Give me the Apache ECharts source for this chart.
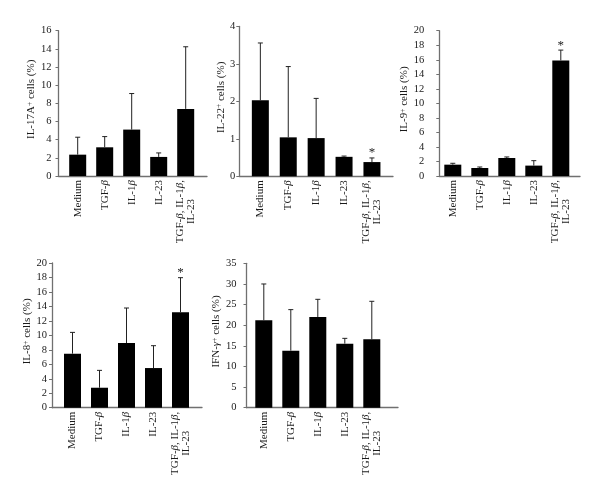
<!DOCTYPE html>
<html>
<head>
<meta charset="utf-8">
<script src="https://cdn.jsdelivr.net/npm/echarts@6/dist/echarts.min.js"></script>
<style>
  html, body { margin: 0; background: #fff; }
  #chart { width: 600px; height: 495px; }
</style>
</head>
<body>
<div id="chart"></div>
<script>
// categories shared by all five panels
const categories = ['Medium', 'TGF-β', 'IL-1β', 'IL-23', 'TGF-β, IL-1β,\nIL-23']

// mean values and SD (error bar height) per panel
const il17Mean = [2.35, 3.16, 5.11, 2.10, 7.39]
const il17Sd = [1.92, 1.18, 3.97, 0.44, 6.84]
const il17Sig = [0, 0, 0, 0, 0]

const il22Mean = [2.03, 1.04, 1.02, 0.52, 0.38]
const il22Sd = [1.53, 1.89, 1.06, 0.02, 0.11]
const il22Sig = [0, 0, 0, 0, 1]

const il9Mean = [1.56, 1.10, 2.48, 1.43, 15.91]
const il9Sd = [0.19, 0.14, 0.14, 0.68, 1.42]
const il9Sig = [0, 0, 0, 0, 1]

const il8Mean = [7.47, 2.76, 8.94, 5.48, 13.18]
const il8Sd = [2.94, 2.40, 4.84, 3.09, 4.79]
const il8Sig = [0, 0, 0, 0, 1]

const ifnMean = [21.18, 13.82, 21.99, 15.52, 16.57]
const ifnSd = [8.81, 9.95, 4.28, 1.29, 9.22]
const ifnSig = [0, 0, 0, 0, 0]

// y axis ranges
const yMax = [16, 4, 20, 20, 35]
const yStep = [2, 1, 2, 2, 5]

const yNames = [
  'IL-17A{sup|+} cells (%)',
  'IL-22{sup|+} cells (%)',
  'IL-9{sup|+} cells (%)',
  'IL-8{sup|+} cells (%)',
  'IFN-{i|γ}{sup|+} cells (%)',
]

// layout of each panel (pixels)
const layout = [
  { left: 58.5, top: 30.7, width: 148.5, height: 145.3, barLeft: 64.2, barWidth: 135, labelMargin: 7, nameGap: 19 },
  { left: 239.3, top: 26.5, width: 153.7, height: 149.8, barLeft: 246.4, barWidth: 139.5, labelMargin: 4, nameGap: 12 },
  { left: 439.3, top: 30.7, width: 140.7, height: 145.3, barLeft: 439.3, barWidth: 135, labelMargin: 15, nameGap: 26 },
  { left: 52, top: 263, width: 150, height: 144.7, barLeft: 59, barWidth: 135, labelMargin: 5, nameGap: 17.5 },
  { left: 246.5, top: 263.3, width: 151.5, height: 144.4, barLeft: 250.3, barWidth: 135, labelMargin: 10, nameGap: 19.5 },
]

const means = [il17Mean, il22Mean, il9Mean, il8Mean, ifnMean]
const sds = [il17Sd, il22Sd, il9Sd, il8Sd, ifnSd]
const sigs = [il17Sig, il22Sig, il9Sig, il8Sig, ifnSig]

const FONT = 'Liberation Serif'
const TEXT = '#1a1a1a'
const AXIS = '#707070'

// category label with italic greek letters, each line centered
function richLabel(s) {
  return s.split('\n').map((line) =>
    line.split(/(β)/).filter((p) => p).map((p) =>
      p === 'β' ? '{b|β}' : '{r|' + p + '}'
    ).join('')
  ).join('\n')
}

let grid = []
let xAxis = []
let yAxis = []
let series = []

layout.forEach((l, k) => {
  // outer grid: the axis lines, y ticks and y labels
  grid.push({ left: l.left, top: l.top, width: l.width, height: l.height, containLabel: false, outerBoundsMode: 'none' })
  // inner grid: the bars and category labels
  grid.push({ left: l.barLeft, top: l.top, width: l.barWidth, height: l.height, containLabel: false, outerBoundsMode: 'none' })

  xAxis.push({
    gridIndex: 2 * k,
    type: 'value',
    min: 0,
    max: 1,
    axisLine: { show: true, lineStyle: { color: AXIS, width: 1.3 } },
    axisTick: { show: false },
    axisLabel: { show: false },
    splitLine: { show: false },
  })
  xAxis.push({
    gridIndex: 2 * k + 1,
    type: 'category',
    data: categories,
    boundaryGap: true,
    axisLine: { show: false },
    axisTick: { show: false },
    axisLabel: {
      interval: 0,
      rotate: 90,
      margin: 4,
      color: TEXT,
      fontFamily: FONT,
      fontSize: 11,
      formatter: richLabel,
      rich: {
        r: { align: 'center', fontFamily: FONT, fontSize: 11, lineHeight: 11, color: TEXT },
        b: { align: 'center', fontFamily: FONT, fontSize: 11, lineHeight: 11, color: TEXT, fontStyle: 'italic' },
      },
    },
  })

  yAxis.push({
    gridIndex: 2 * k,
    type: 'value',
    min: 0,
    max: yMax[k],
    interval: yStep[k],
    name: yNames[k],
    nameLocation: 'middle',
    nameGap: l.nameGap,
    nameTextStyle: {
      color: TEXT,
      fontFamily: FONT,
      fontSize: 11,
      padding: [0, 0, 0, 8],
      rich: {
        sup: { fontFamily: FONT, fontSize: 7.5, verticalAlign: 'top', color: TEXT },
        i: { fontFamily: FONT, fontSize: 11, fontStyle: 'italic', color: TEXT },
      },
    },
    axisLine: { show: true, lineStyle: { color: AXIS, width: 1.3 } },
    axisTick: { show: true, length: 3, lineStyle: { color: AXIS } },
    axisLabel: { margin: l.labelMargin, color: TEXT, fontFamily: FONT, fontSize: 10.5 },
    splitLine: { show: false },
  })
  yAxis.push({
    gridIndex: 2 * k + 1,
    type: 'value',
    min: 0,
    max: yMax[k],
    show: false,
    splitLine: { show: false },
  })

  series.push({
    type: 'bar',
    xAxisIndex: 2 * k + 1,
    yAxisIndex: 2 * k + 1,
    data: means[k],
    barWidth: 17,
    itemStyle: { color: '#000' },
    silent: true,
  })
  series.push({
    type: 'custom',
    xAxisIndex: 2 * k + 1,
    yAxisIndex: 2 * k + 1,
    z: 5,
    silent: true,
    data: means[k].map((m, i) => [i, m, sds[k][i], sigs[k][i]]),
    renderItem(params, api) {
      let base = api.coord([api.value(0), api.value(1)])
      let top = api.coord([api.value(0), api.value(1) + api.value(2)])
      let style = { stroke: '#222', lineWidth: 1 }
      let children = [
        { type: 'line', shape: { x1: base[0], y1: base[1], x2: top[0], y2: top[1] }, style },
        { type: 'line', shape: { x1: top[0] - 2.5, y1: top[1], x2: top[0] + 2.5, y2: top[1] }, style },
      ]
      if (api.value(3)) {
        children.push({
          type: 'text',
          style: { text: '*', x: top[0], y: top[1] - 5, align: 'center', verticalAlign: 'middle', font: '13px "Liberation Serif"', fill: TEXT },
        })
      }
      return { type: 'group', children }
    },
  })
})

let mychart = echarts.init(document.getElementById('chart'))
mychart.setOption({
  animation: false,
  textStyle: { fontFamily: FONT },
  grid,
  xAxis,
  yAxis,
  series,
})
</script>
</body>
</html>
